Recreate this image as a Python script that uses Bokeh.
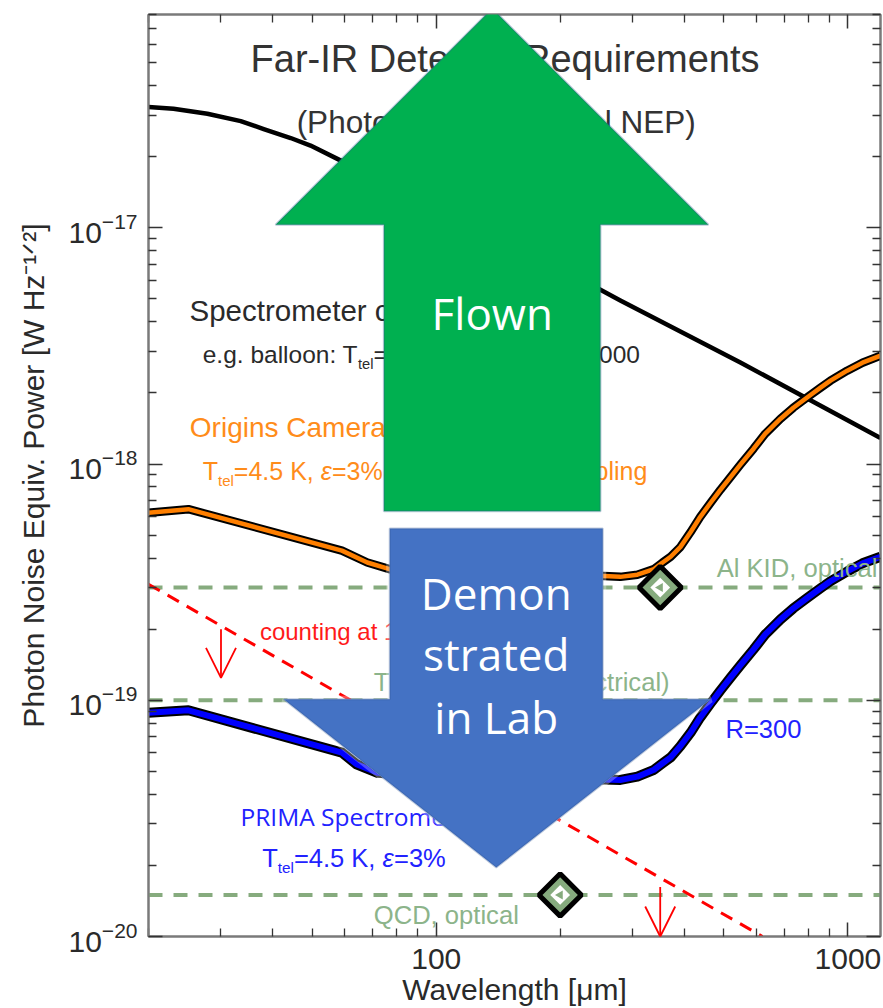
import math

from bokeh.plotting import figure
from bokeh.models import (FixedTicker, LogAxis, LogTickFormatter, BasicTickFormatter,
                          CustomJSTickFormatter, Label, PolyAnnotation, Arrow, OpenHead,
                          Range1d, Span)
from bokeh.embed import file_html
from bokeh.resources import INLINE

# ---------------------------------------------------------------- data
# balloon spectrometer (R=1000), photon-noise NEP [W Hz^-1/2]
balloon_wl = [20, 23, 27.8, 33.5, 38.1, 44.3, 49.5, 58.5, 100, 150, 200, 280, 548, 1200]
balloon_nep = [3.25e-17, 3.19e-17, 3.04e-17, 2.83e-17, 2.62e-17, 2.40e-17, 2.23e-17,
               1.93e-17, 1.24e-17, 8.7e-18, 6.76e-18, 4.92e-18, 2.69e-18, 1.29e-18]

# Origins camera
camera_wl = [20, 25, 59, 68, 77, 100, 150, 200, 255, 280, 308, 338, 354, 371, 392, 415,
             438, 464, 490, 518, 548, 590, 630, 686, 737, 796, 858, 907, 996, 1085, 1200]
camera_nep = [6.22e-19, 6.44e-19, 4.30e-19, 3.83e-19, 3.59e-19, 3.48e-19, 3.40e-19,
              3.36e-19, 3.36e-19, 3.33e-19, 3.40e-19, 3.59e-19, 3.82e-19, 4.05e-19,
              4.46e-19, 5.16e-19, 5.98e-19, 6.86e-19, 7.78e-19, 8.79e-19, 9.94e-19,
              1.161e-18, 1.344e-18, 1.556e-18, 1.732e-18, 1.914e-18, 2.105e-18,
              2.254e-18, 2.485e-18, 2.686e-18, 2.876e-18]

# PRIMA spectrometer (R=300)
prima_wl = [20, 25, 59, 64, 72, 100, 150, 200, 255, 280, 308, 338, 354, 371, 392, 415,
            438, 464, 490, 518, 548, 590, 630, 686, 737, 796, 858, 907, 996, 1085, 1200]
prima_nep = [8.86e-20, 9.07e-20, 6.0e-20, 5.36e-20, 4.93e-20, 4.75e-20, 4.68e-20,
             4.64e-20, 4.62e-20, 4.60e-20, 4.75e-20, 5.08e-20, 5.40e-20, 5.73e-20,
             6.40e-20, 7.30e-20, 8.46e-20, 9.70e-20, 1.10e-19, 1.243e-19, 1.406e-19,
             1.642e-19, 1.90e-19, 2.20e-19, 2.45e-19, 2.71e-19, 2.98e-19, 3.19e-19,
             3.51e-19, 3.80e-19, 4.05e-19]

# photon counting limit
counting_wl = [20, 620]
counting_nep = [3.1e-19, 1.0e-20]

# detector requirement levels
detector_nep = [3.0e-19, 1.0e-19, 1.5e-20]

# demonstrated detector points
demo_wl = [350, 200]
demo_nep = [3.0e-19, 1.5e-20]

# "below this line" arrows on the counting limit
limit_wl = [30, 350]
limit_from = [2.0e-19, 1.62e-20]
limit_to = [1.245e-19, 1.0e-20]

# axis ticks
x_major = [100, 1000]
x_minor = [20, 30, 40, 50, 60, 70, 80, 90, 200, 300, 400, 500, 600, 700, 800, 900]
y_major = [1e-20, 1e-19, 1e-18, 1e-17]
y_minor = [k * 10.0 ** e for e in (-20, -19, -18, -17) for k in range(2, 10)]

WL_MIN, WL_MAX = 20, 1200
NEP_MIN, NEP_MAX = 1e-20, 8e-17

# big block arrows (outline vertices in data space)
flown_wl = [136.8, 458.4, 250.6, 250.6, 74.6, 74.6, 40.7]
flown_nep = [8.49e-17, 1.03e-17, 1.03e-17, 6.31e-19, 6.31e-19, 1.03e-17, 1.03e-17]
lab_wl = [77.1, 253.8, 253.8, 463.6, 139.9, 42.6, 77.1]
lab_nep = [5.33e-19, 5.33e-19, 1.01e-19, 1.01e-19, 1.96e-20, 1.01e-19, 1.01e-19]

# ---------------------------------------------------------------- styling
SANS = "Liberation Sans"
DARK = "#2a2a2a"
GREEN_LINE = "#86AB7E"
GREEN_TEXT = "#8CB48A"
ORANGE_TEXT = "#FF8C1A"
BLUE_TEXT = "#2222FF"
RED = "#FF1A1A"

# Arial / Liberation Sans advance widths (1/1000 em) for laying out mixed runs
ADV = {" ": 278, "%": 889, "(": 333, ")": 333, ",": 278, "-": 333, ".": 278, "/": 278,
       ":": 278, "=": 584, "[": 278, "]": 278,
       "A": 667, "C": 722, "D": 722, "E": 667, "H": 722, "I": 278, "K": 667, "L": 556,
       "N": 722, "P": 667, "Q": 778, "R": 722, "S": 667, "T": 611, "W": 944,
       "a": 556, "b": 556, "c": 500, "d": 556, "e": 556, "g": 556, "h": 556, "i": 222,
       "l": 222, "m": 833, "n": 556, "o": 556, "p": 556, "q": 556, "r": 333, "s": 500,
       "t": 278, "u": 556, "v": 500, "w": 722, "y": 500, "z": 500,
       "\u03bc": 576, "\u03b5": 450}


def run_width(s, size):
    return sum(ADV.get(ch, 556) for ch in s) * size / 1000.0


p = figure(width=883, height=1008, x_axis_type="log", y_axis_type="log",
           x_range=Range1d(WL_MIN, WL_MAX), y_range=Range1d(NEP_MIN, NEP_MAX),
           output_backend="svg", toolbar_location=None,
           min_border_left=148, min_border_right=3, min_border_top=14,
           min_border_bottom=71)
p.xgrid.visible = False
p.ygrid.visible = False
p.background_fill_color = "white"
p.border_fill_color = "white"
p.outline_line_color = "#7a7a7a"
p.outline_line_width = 2


def style_axis(ax, major, minor):
    ax.ticker = FixedTicker(ticks=major, minor_ticks=minor)
    ax.axis_line_color = "#7a7a7a"
    ax.axis_line_width = 2
    ax.major_tick_in = 14
    ax.major_tick_out = 0
    ax.minor_tick_in = 8
    ax.minor_tick_out = 0
    ax.major_tick_line_color = "#333333"
    ax.minor_tick_line_color = "#333333"
    ax.major_tick_line_width = 1.5
    ax.minor_tick_line_width = 1.3
    ax.major_label_text_font = SANS
    ax.major_label_text_font_size = "30px"
    ax.major_label_text_color = DARK
    ax.axis_label_text_font = SANS
    ax.axis_label_text_font_size = "30px"
    ax.axis_label_text_font_style = "normal"
    ax.axis_label_text_color = DARK


xb = p.xaxis[0]
style_axis(xb, x_major, x_minor)
xb.formatter = BasicTickFormatter()
xb.major_label_standoff = 12
xb.axis_label = "Wavelength [\u03bcm]"
xb.axis_label_standoff = 1

yl = p.yaxis[0]
style_axis(yl, y_major, y_minor)
yl.formatter = LogTickFormatter()
yl.major_label_standoff = 11
yl.axis_label = "Photon Noise Equiv. Power [W Hz\u207b\u00b9\u141f\u00b2]"
yl.axis_label_standoff = 16

blank = "return ''"
top_axis = LogAxis(formatter=CustomJSTickFormatter(code=blank), major_label_standoff=0)
style_axis(top_axis, x_major, x_minor)
top_axis.major_label_text_font_size = "1px"
p.add_layout(top_axis, "above")

right_axis = LogAxis(formatter=CustomJSTickFormatter(code=blank), major_label_standoff=0)
style_axis(right_axis, y_major, y_minor)
right_axis.major_label_text_font_size = "1px"
p.add_layout(right_axis, "right")

# ---------------------------------------------------------------- requirement levels
for nep in detector_nep:
    p.add_layout(Span(location=nep, dimension="width", line_color=GREEN_LINE,
                      line_width=4, line_dash="14 11", level="underlay"))

# counting limit
p.line(counting_wl, counting_nep, line_color="red", line_width=3, line_dash="13 9")

# photon-noise curves
p.line(balloon_wl, balloon_nep, line_color="black", line_width=4.5, line_join="round")
p.line(camera_wl, camera_nep, line_color="black", line_width=8.5, line_join="round")
p.line(camera_wl, camera_nep, line_color="#FF7F00", line_width=4.5, line_join="round")
p.line(prima_wl, prima_nep, line_color="black", line_width=10, line_join="round")
p.line(prima_wl, prima_nep, line_color="#0000FF", line_width=6, line_join="round")

# demonstrated detector markers
p.scatter(demo_wl, demo_nep, marker="square", angle=math.pi / 4, size=30,
          fill_color=GREEN_LINE, line_color="black", line_width=5)
p.scatter(demo_wl, demo_nep, marker="square", angle=math.pi / 4, size=14,
          fill_color="white", line_color=None)
p.scatter(demo_wl, demo_nep, marker="triangle", angle=math.pi / 2, size=9,
          fill_color=GREEN_LINE, line_color=None)

# downward arrows on the counting limit
for wl, a, b in zip(limit_wl, limit_from, limit_to):
    p.add_layout(Arrow(end=OpenHead(size=30, line_color="red", line_width=1.8),
                       x_start=wl, y_start=a, x_end=wl, y_end=b,
                       line_color="red", line_width=1.8))


# ---------------------------------------------------------------- text
def put(x, y, text, size, color, font=SANS, style="normal", align="left",
        dx=0.0, dy=0.0, on_baseline=True, level="annotation"):
    # labels are centred vertically; lift baseline-anchored runs by half a cap height
    lift = 0.36 * size if on_baseline else 0.0
    p.add_layout(Label(x=x, y=y, text=text, x_offset=dx, y_offset=dy + lift,
                       text_font=font, text_font_size=f"{size}px", text_color=color,
                       text_font_style=style, text_align=align,
                       text_baseline="middle", level=level))


def rich(x, y, parts, size, color):
    """Left-to-right run of normal / subscript / italic pieces."""
    dx = 0.0
    for txt, kind in parts:
        fs = round(size * 0.6, 1) if kind == "sub" else size
        dy = -0.38 * size + 0.36 * (size - fs) if kind == "sub" else 0.0
        put(x, y, txt, fs, color, style="italic" if kind == "it" else "normal",
            dx=dx, dy=dy)
        dx += run_width(txt, fs)


put(35.4, 4.52e-17, "Far-IR Detector Requirements", 38, "#333333")
put(45.8, 2.52e-17, "(Photon Noise, Optical NEP)", 31.5, "#333333")

put(25.16, 4.02e-18, "Spectrometer case", 29.5, DARK)
rich(27.09, 2.67e-18, [("e.g. balloon: T", "n"), ("tel", "sub"), ("=250 K, ", "n"),
                       ("\u03b5", "it"), ("=10%, R=1000", "n")], 24.5, DARK)

put(25.2, 1.30e-18, "Origins Camera", 28, ORANGE_TEXT)
rich(27.09, 8.58e-19, [("T", "n"), ("tel", "sub"), ("=4.5 K, ", "n"), ("\u03b5", "it"),
                       ("=3%, R=3, Nyquist sampling", "n")], 25, ORANGE_TEXT)

put(37.3, 1.795e-19, "counting at 1 Hz", 24, RED)

put(480, 3.31e-19, "Al KID, optical", 25.6, GREEN_TEXT)
put(70.5, 1.094e-19, "TES bolometer (electrical)", 25.6, GREEN_TEXT)
put(70.5, 1.125e-20, "QCD, optical", 25.6, GREEN_TEXT)

put(504, 6.94e-20, "R=300", 25.6, BLUE_TEXT)
put(33.45, 2.965e-20, "PRIMA Spectrometer", 24.5, BLUE_TEXT, font="Open Sans")
rich(37.77, 1.97e-20, [("T", "n"), ("tel", "sub"), ("=4.5 K, ", "n"), ("\u03b5", "it"),
                       ("=3%", "n")], 25.5, BLUE_TEXT)

# ---------------------------------------------------------------- block arrows
p.add_layout(PolyAnnotation(xs=flown_wl, ys=flown_nep, fill_color="#00B050", fill_alpha=1.0,
                            line_color="#2F528F", line_width=2, level="overlay"))
p.add_layout(PolyAnnotation(xs=lab_wl, ys=lab_nep, fill_color="white", fill_alpha=1.0,
                            line_color="white", line_width=7, level="overlay"))
p.add_layout(PolyAnnotation(xs=lab_wl, ys=lab_nep, fill_color="#4472C4", fill_alpha=1.0,
                            line_color="#2F528F", line_width=2, level="overlay"))

put(136.8, 4.38e-18, "Flown", 44, "white", font="Open Sans", align="center",
    on_baseline=False, level="overlay")
for txt, nep in zip(["Demon", "strated", "in Lab"], [2.85e-19, 1.565e-19, 8.46e-20]):
    put(139.9, nep, txt, 44, "white", font="Open Sans", align="center",
        on_baseline=False, level="overlay")

open("out.html", "w").write(file_html(p, INLINE))
